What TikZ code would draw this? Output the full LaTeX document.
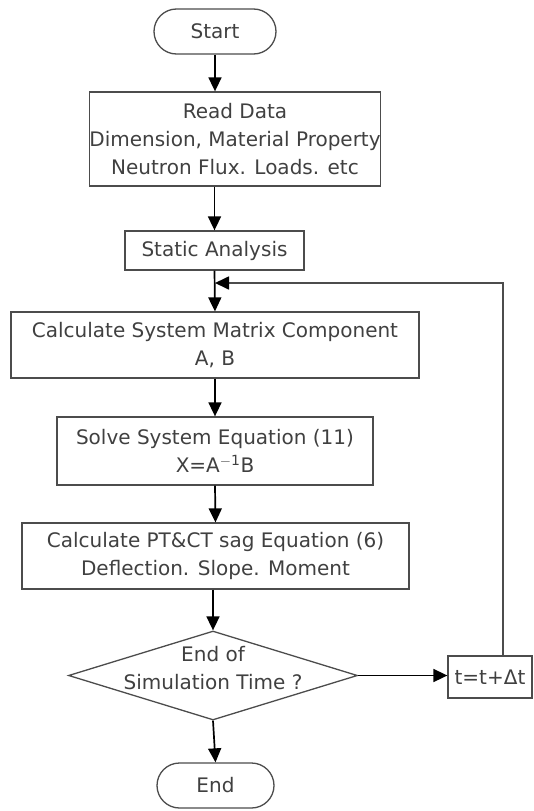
\documentclass[tikz,border=0pt]{standalone}
\usepackage{fontspec}
\setmainfont{DejaVu Sans}
\usepackage{xcolor}
\usetikzlibrary{shapes.geometric, shapes.misc, arrows.meta, positioning, calc}
\newcommand{\flowfont}{\fontsize{20}{28}\selectfont}
\tikzset{
    terminal/.style={
        rounded rectangle,
        draw=black!70,
        line width=1.3pt,
        inner sep=0pt,
        minimum height=45pt,
        text=black!75,
        font=\flowfont,
    },
    process/.style={
        rectangle,
        draw=black!70,
        line width=1.3pt,
        inner sep=0pt,
        align=center,
        text=black!75,
        font=\flowfont,
    },
    decision/.style={
        diamond,
        draw=black!70,
        line width=1.3pt,
        inner sep=0pt,
        minimum width=289pt,
        minimum height=89pt,
    },
}

\begin{document}
\begin{tikzpicture}[x=1pt,y=-1pt,>={Triangle[length=14pt,width=13pt,color=black]}]
    \useasboundingbox (0,0) rectangle (534,811);
      \node [terminal, minimum width=122pt] (Start) at (215,31.5) {Start};
      \node [process, minimum width=288pt, minimum height=94pt] (Read) at (235,139)
            {Read Data\\Dimension, Material Property\\Neutron Flux. Loads. etc};
      \node [process, minimum width=179pt, minimum height=39pt] (Static) at (214.5,250.5) {Static Analysis};
      \node [process, minimum width=408pt, minimum height=66pt] (Matrix) at (215,345)
            {Calculate System Matrix Component\\A, B};
      \node [process, minimum width=316pt, minimum height=68pt] (Solve) at (215,451)
            {Solve System Equation (11)\\X=A\textsuperscript{$-$1}B};
      \node [process, minimum width=387pt, minimum height=66pt] (Sag) at (215.5,556)
            {Calculate PT\&CT sag Equation (6)\\Deflection. Slope. Moment};
      \node [decision, label={[process, draw=none, yshift=7pt]center:End of\\Simulation Time ?}] (Check) at (213,675.5) {};
      \node [process, minimum width=84pt, minimum height=42pt] (Step) at (490,677) {t=t+Δt};
      \node [terminal, minimum width=117pt] (End) at (215.5,785.5) {End};

      % loop back corner
      \coordinate (Turn) at (503,283);
      \coordinate (Join) at (215,283);

      \draw[->, line width=1.7pt] (Start.south) -- (Start.south |- Read.north);
      \draw[->, line width=1.7pt] (Read.south -| Static.north) -- (Static.north);
      \draw[->, line width=1.7pt] (Static.south) -- (Matrix.north);
      \draw[->, line width=1.7pt] (Matrix.south) -- (Solve.north);
      \draw[->, line width=1.7pt] (Solve.south) -- (Sag.north);
      \draw[->, line width=1.7pt] (Sag.south -| Check.north) -- (Check.north);
      \draw[->, line width=1.7pt] (Check.south) -- (End.north);
      \draw[->, line width=1.7pt] (Check.east) -- (Check.east -| Step.west);
      \draw[->, line width=1.7pt, draw=black!70] (Step.north -| Turn) -- (Turn) -- (Join);
\end{tikzpicture}
\end{document}
